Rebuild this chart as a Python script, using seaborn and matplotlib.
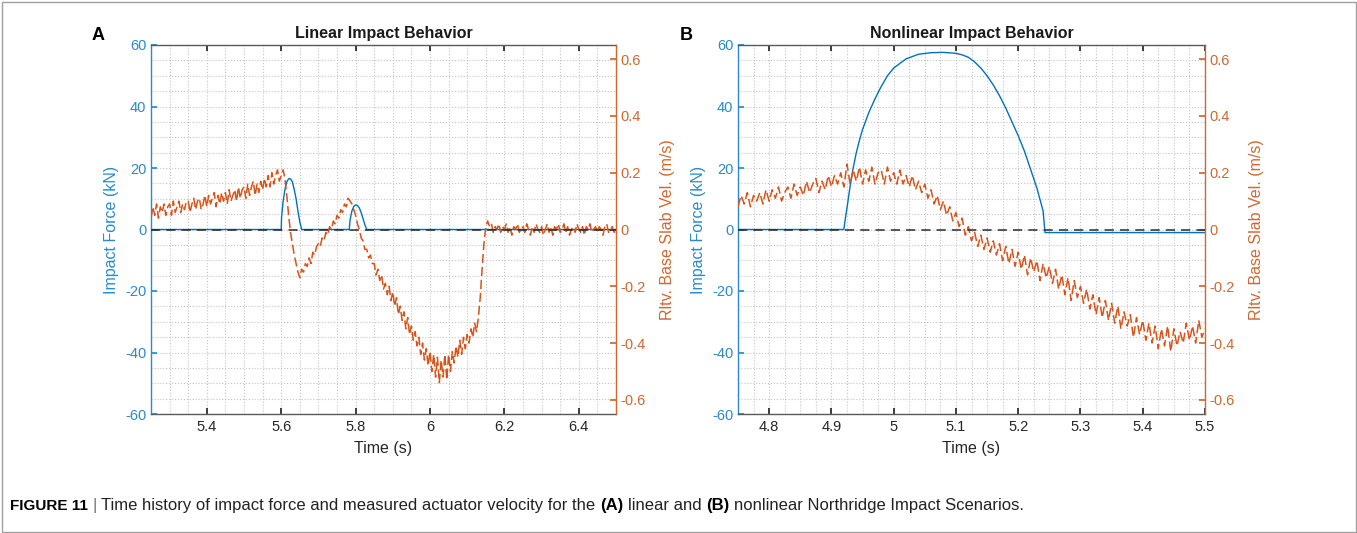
import numpy as np
import matplotlib
matplotlib.use("Agg")
import matplotlib.pyplot as plt
from matplotlib.ticker import MultipleLocator, FuncFormatter
from matplotlib.patches import Rectangle
import seaborn as sns

# ---- Panel A: linear impact ----
# impact force (kN) vs time (s)
force_a_t = [5.25, 5.600, 5.601, 5.605, 5.610, 5.615, 5.620, 5.625, 5.630, 5.635, 5.640,
             5.645, 5.650, 5.655, 5.783, 5.785, 5.790, 5.795, 5.800, 5.805, 5.810, 5.815,
             5.820, 5.825, 5.830, 6.50]
force_a = [0, 0, 4, 9, 13, 15.5, 16.5, 16.5, 15.5, 13, 10,
           6, 2.5, 0, 0, 3, 6, 7.5, 8, 7.8, 7, 5.5,
           3.5, 1.5, 0, 0]
# relative base slab velocity (m/s), one reading every 5 ms from 5.25 s
vel_a_start = 5.25
vel_a = [
    0.04, 0.08, 0.05, 0.09, 0.04, 0.08, 0.06, 0.09, 0.05, 0.08,
    0.09, 0.05, 0.10, 0.06, 0.08, 0.10, 0.06, 0.09, 0.07, 0.10,
    0.10, 0.06, 0.09, 0.11, 0.07, 0.10, 0.11, 0.07, 0.09, 0.12,
    0.08, 0.12, 0.09, 0.11, 0.13, 0.08, 0.12, 0.09, 0.13, 0.10,
    0.13, 0.09, 0.14, 0.10, 0.12, 0.14, 0.10, 0.15, 0.11, 0.14,
    0.15, 0.11, 0.16, 0.12, 0.15, 0.17, 0.12, 0.16, 0.13, 0.17,
    0.14, 0.18, 0.15, 0.19, 0.15, 0.20, 0.16, 0.19, 0.21, 0.17,
    0.19, 0.21, 0.18, 0.12, 0.05, -0.01, -0.05, -0.09, -0.12, -0.15,
    -0.17, -0.14, -0.15, -0.12, -0.13, -0.10, -0.12, -0.08, -0.09, -0.06,
    -0.05, -0.06, -0.03, -0.04, -0.01, -0.02, 0.01, 0.00, 0.03, 0.02,
    0.05, 0.04, 0.07, 0.06, 0.09, 0.08, 0.11, 0.10, 0.09, 0.07,
    0.05, 0.02, 0.00, -0.03, -0.04, -0.07, -0.07, -0.10, -0.09, -0.12,
    -0.12, -0.16, -0.14, -0.18, -0.16, -0.21, -0.19, -0.23, -0.20, -0.25,
    -0.22, -0.27, -0.24, -0.30, -0.27, -0.32, -0.29, -0.35, -0.31, -0.37,
    -0.34, -0.39, -0.36, -0.41, -0.38, -0.44, -0.40, -0.46, -0.42, -0.48,
    -0.43, -0.50, -0.44, -0.52, -0.45, -0.54, -0.46, -0.52, -0.44, -0.53,
    -0.44, -0.50, -0.43, -0.47, -0.41, -0.45, -0.39, -0.44, -0.38, -0.42,
    -0.37, -0.40, -0.35, -0.38, -0.33, -0.36, -0.31, -0.24, -0.14, -0.05,
    0.01, 0.03, 0.01, 0.02, -0.01, 0.01, 0.00, 0.02, -0.01, 0.01,
    0.00, 0.02, -0.01, 0.01, -0.02, 0.01, 0.00, 0.02, -0.01, 0.00,
    0.01, -0.01, 0.02, 0.00, -0.02, 0.01, -0.01, 0.02, 0.00, -0.01,
    0.01, -0.02, 0.00, 0.02, -0.01, 0.01, -0.02, 0.01, 0.00, 0.02,
    -0.01, 0.00, 0.02, -0.01, 0.01, -0.02, 0.00, 0.01, -0.01, 0.02,
    0.00, -0.01, 0.01, -0.02, 0.01, 0.00, 0.02, -0.01, 0.00, 0.01,
    -0.01, 0.01, 0.00, -0.02, 0.01, 0.02, -0.01, 0.00, 0.01, -0.01,
    0.00,
]

# ---- Panel B: nonlinear impact ----
force_b_t = [4.75, 4.920, 4.922, 4.925, 4.930, 4.935, 4.940, 4.945, 4.950, 4.960, 4.970,
             4.980, 4.990, 5.000, 5.020, 5.040, 5.060, 5.080, 5.100, 5.110, 5.120, 5.130,
             5.140, 5.150, 5.160, 5.170, 5.180, 5.190, 5.200, 5.210, 5.220, 5.230, 5.240,
             5.243, 5.50]
force_b = [0, 0, 3, 7, 14, 20, 25, 29, 32.5, 38, 42.5,
           46.5, 50, 52.5, 55.5, 57, 57.5, 57.6, 57.3, 56.8, 56, 54.5,
           52.5, 50, 47, 43.5, 39.5, 35, 30.5, 25.5, 19.5, 13.5, 6,
           -1, -1]
vel_b_start = 4.75
vel_b = [
    0.08, 0.12, 0.09, 0.13, 0.08, 0.12, 0.10, 0.13, 0.09, 0.14,
    0.10, 0.14, 0.11, 0.15, 0.10, 0.13, 0.15, 0.11, 0.16, 0.12,
    0.15, 0.12, 0.17, 0.13, 0.16, 0.18, 0.13, 0.17, 0.14, 0.19,
    0.15, 0.19, 0.16, 0.20, 0.15, 0.23, 0.16, 0.21, 0.17, 0.22,
    0.16, 0.21, 0.17, 0.22, 0.16, 0.20, 0.21, 0.16, 0.22, 0.17,
    0.20, 0.16, 0.21, 0.16, 0.19, 0.15, 0.19, 0.14, 0.17, 0.13,
    0.16, 0.11, 0.14, 0.09, 0.12, 0.07, 0.10, 0.05, 0.08, 0.03,
    0.06, 0.01, 0.04, -0.02, 0.01, -0.04, -0.01, -0.06, -0.02, -0.07,
    -0.03, -0.08, -0.04, -0.09, -0.05, -0.11, -0.06, -0.12, -0.07, -0.13,
    -0.08, -0.14, -0.09, -0.16, -0.10, -0.15, -0.11, -0.18, -0.12, -0.17,
    -0.13, -0.19, -0.14, -0.21, -0.16, -0.23, -0.17, -0.25, -0.18, -0.24,
    -0.20, -0.26, -0.21, -0.28, -0.23, -0.30, -0.24, -0.31, -0.25, -0.32,
    -0.26, -0.33, -0.27, -0.35, -0.29, -0.34, -0.30, -0.38, -0.31, -0.37,
    -0.32, -0.39, -0.33, -0.40, -0.34, -0.42, -0.35, -0.41, -0.34, -0.43,
    -0.35, -0.41, -0.36, -0.40, -0.33, -0.39, -0.34, -0.40, -0.32, -0.38,
    -0.35,
]
SAMPLE_DT = 0.005

BLUE_LINE = "#0072BD"
BLUE_TXT = "#2a8acb"
ORANGE_LINE = "#D95319"
ORANGE_TXT = "#d2672e"
DARK = "#262626"

sns.set_theme(style="white")
plt.rcParams['font.family'] = ['Liberation Sans', 'DejaVu Sans']
plt.rcParams['axes.unicode_minus'] = False
plt.rcParams['xtick.direction'] = 'in'
plt.rcParams['ytick.direction'] = 'in'

fig = plt.figure(figsize=(13.57, 5.33), dpi=100)

fmt = FuncFormatter(lambda v, p: f"{round(v, 4):g}")


def draw_panel(rect, ft, fv, v_start, vv, xlim, xmajor, title, letter, letter_xy):
    ax = fig.add_axes(rect)
    ax2 = ax.twinx()
    vt = v_start + SAMPLE_DT * np.arange(len(vv))

    sns.lineplot(x=ft, y=fv, ax=ax, color=BLUE_LINE, linewidth=1.0,
                 estimator=None, sort=False, legend=False)
    sns.lineplot(x=vt, y=vv, ax=ax2, color=ORANGE_LINE, linewidth=1.1,
                 estimator=None, sort=False, legend=False)
    ax2.lines[-1].set_linestyle((0, (6, 2.5)))
    ax2.axhline(0, color="#2b2b2b", linestyle=(0, (6, 4)), linewidth=1.1, zorder=5)

    ax.set_xlim(*xlim)
    ax.set_ylim(-60, 60)
    ax2.set_ylim(-0.65, 0.65)
    ax.xaxis.set_major_locator(MultipleLocator(xmajor))
    ax.xaxis.set_minor_locator(MultipleLocator(xmajor / 4))
    ax.yaxis.set_major_locator(MultipleLocator(20))
    ax.yaxis.set_minor_locator(MultipleLocator(5))
    ax2.yaxis.set_major_locator(MultipleLocator(0.2))
    ax.xaxis.set_major_formatter(fmt)
    ax2.yaxis.set_major_formatter(fmt)

    ax.grid(which="both", linestyle=":", color="#c4c4c4", linewidth=0.8)
    ax.set_axisbelow(True)

    ax.tick_params(axis="x", which="major", direction="in", bottom=True, top=True, length=4,
                   color=DARK, labelcolor=DARK, labelsize=10.5, pad=4)
    ax.tick_params(axis="y", which="major", direction="in", left=True, length=4,
                   color=BLUE_TXT, labelcolor=BLUE_TXT, labelsize=10.5)
    ax2.tick_params(axis="y", which="major", direction="in", right=True, length=4,
                    color=ORANGE_TXT, labelcolor=ORANGE_TXT, labelsize=10.5)
    ax.tick_params(which="minor", length=0)

    for s in ("top", "bottom"):
        ax.spines[s].set_color("#5a5a5a")
        ax2.spines[s].set_visible(False)
    ax.spines["left"].set_color(BLUE_TXT)
    ax.spines["right"].set_visible(False)
    ax2.spines["left"].set_visible(False)
    ax2.spines["right"].set_color(ORANGE_TXT)
    for s in ax.spines.values():
        s.set_linewidth(1.0)
    ax2.spines["right"].set_linewidth(1.0)

    ax.set_xlabel("Time (s)", fontsize=11.5, color=DARK, labelpad=5)
    ax.set_ylabel("Impact Force (kN)", fontsize=11.5, color=BLUE_TXT, labelpad=4)
    ax2.set_ylabel("Rltv. Base Slab Vel. (m/s)", fontsize=11.5, color=ORANGE_TXT, labelpad=10)
    ax.set_title(title, fontsize=11.5, fontweight="bold", color="#1a1a1a", pad=5)
    fig.text(letter_xy[0], letter_xy[1], letter, fontsize=13, fontweight="bold",
             ha="center", va="center", color="black")
    return ax, ax2


W, H = 1357, 533
draw_panel([151 / W, 1 - 414 / H, 465 / W, 369 / H], force_a_t, force_a, vel_a_start, vel_a,
           (5.25, 6.5), 0.2, "Linear Impact Behavior", "A", (98 / W, 1 - 35 / H))
draw_panel([738 / W, 1 - 414 / H, 467 / W, 369 / H], force_b_t, force_b, vel_b_start, vel_b,
           (4.75, 5.5), 0.1, "Nonlinear Impact Behavior", "B", (686 / W, 1 - 35 / H))

# caption with mixed weights, placed piece by piece on a common baseline
caption = [("FIGURE 11", "bold", "black", 11), ("|", "normal", "#777777", 12),
           ("Time history of impact force and measured actuator velocity for the", "normal", "#222222", 12),
           ("(A)", "bold", "black", 12), ("linear and", "normal", "#222222", 12),
           ("(B)", "bold", "black", 12), ("nonlinear Northridge Impact Scenarios.", "normal", "#222222", 12)]
renderer = fig.canvas.get_renderer()
x = 10 / W
for txt, weight, col, size in caption:
    t = fig.text(x, 1 - 510 / H, txt, fontsize=size, fontweight=weight, color=col,
                 ha="left", va="baseline")
    bb = t.get_window_extent(renderer=renderer)
    x = bb.x1 / W + 0.278 * size * fig.dpi / 72 / W

fig.add_artist(Rectangle((1.5 / W, 1.5 / H), 1 - 3 / W, 1 - 3 / H, transform=fig.transFigure,
                         fill=False, edgecolor="#a0a0a0", linewidth=1.0))

fig.savefig("out.png", dpi=100)
